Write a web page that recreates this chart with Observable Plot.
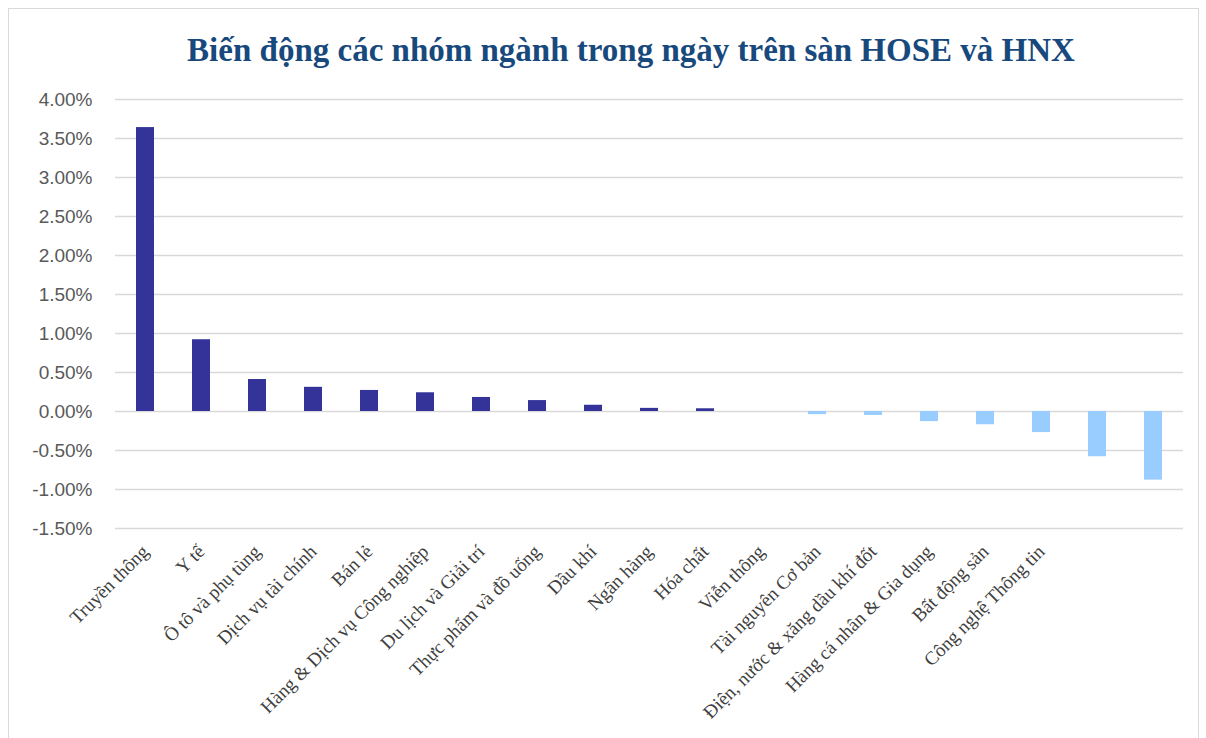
<!DOCTYPE html>
<html>
<head>
<meta charset="utf-8">
<script src="https://cdn.jsdelivr.net/npm/d3@7"></script>
<script src="https://cdn.jsdelivr.net/npm/@observablehq/plot@0.6"></script>
<style>
  html, body { margin: 0; padding: 0; background: #fff; }
  #frame { position: absolute; left: 8px; top: 8px; width: 1191px; height: 740px; border: 1px solid #d9d9d9; box-sizing: border-box; }
  #title { position: absolute; top: 30px; left: 56px; width: 1150px; text-align: center;
           font-family: "Liberation Serif", serif; font-weight: bold; font-size: 33px; color: #17497d; line-height: 40px; }
  #chart { position: absolute; top: 80px; left: 0; }
</style>
</head>
<body>
<div id="frame"></div>
<div id="title">Biến động các nhóm ngành trong ngày trên sàn HOSE và HNX</div>
<div id="chart"></div>
<script>
const categories = [
  "Truyền thông", "Y tế", "Ô tô và phụ tùng", "Dịch vụ tài chính", "Bán lẻ",
  "Hàng & Dịch vụ Công nghiệp", "Du lịch và Giải trí", "Thực phẩm và đồ uống", "Dầu khí",
  "Ngân hàng", "Hóa chất", "Viễn thông", "Tài nguyên Cơ bản", "Điện, nước & xăng dầu khí đốt",
  "Hàng cá nhân & Gia dụng", "Bất động sản", "Công nghệ Thông tin", "", ""
];
const values = [3.64, 0.92, 0.41, 0.31, 0.27, 0.24, 0.18, 0.14, 0.08, 0.04, 0.035, 0,
  -0.04, -0.05, -0.13, -0.17, -0.27, -0.58, -0.88];
const yTicks = [-1.5, -1.0, -0.5, 0, 0.5, 1.0, 1.5, 2.0, 2.5, 3.0, 3.5, 4.0];

const idx = d3.range(categories.length);

const chart = Plot.plot({
  width: 1206,
  height: 658,
  marginTop: 19,
  marginBottom: 210,
  marginLeft: 115,
  marginRight: 23,
  x: { domain: idx, paddingInner: 0.68, paddingOuter: 0.355, align: 0.5, label: null, axis: null },
  y: { domain: [-1.5, 4], label: null, axis: null },
  marks: [
    Plot.ruleY(yTicks, { stroke: "#d9d9d9", strokeWidth: 1.5 }),
    Plot.barY(idx, {
      x: i => i,
      y: i => values[i],
      fill: i => values[i] >= 0 ? "#333399" : "#99ccff"
    }),
    Plot.axisY(yTicks, {
      tickSize: 0, tickPadding: 23, label: null,
      tickFormat: d => d.toFixed(2) + "%",
      fontSize: 19, fontFamily: "Liberation Sans, Arial, sans-serif", fill: "#595959"
    }),
    Plot.axisX(idx, {
      tickSize: 0, tickPadding: 20, label: null, tickRotate: -45,
      tickFormat: i => categories[i],
      fontSize: 19, fontFamily: "Liberation Serif, serif", fill: "#404040"
    })
  ]
});
document.getElementById("chart").appendChild(chart);
</script>
</body>
</html>
